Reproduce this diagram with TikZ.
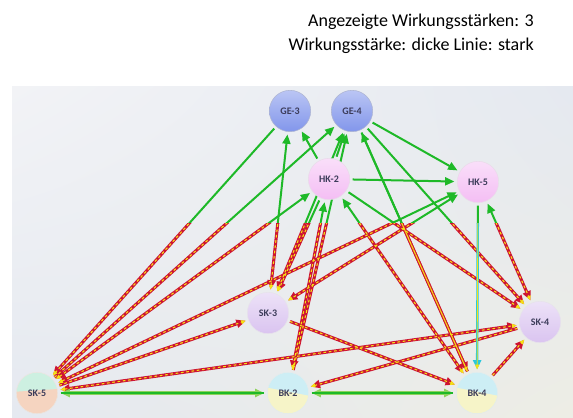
\documentclass[tikz,border=0pt]{standalone}
\usepackage{fontspec}
\setmainfont{Carlito}
\usetikzlibrary{arrows.meta, shadings}
\definecolor{mygreen}{RGB}{30,185,40}
\definecolor{mylightgreen}{RGB}{140,210,90}
\definecolor{myred}{RGB}{205,20,50}
\definecolor{myyellow}{RGB}{245,225,20}
\definecolor{mycyan}{RGB}{40,200,220}
\definecolor{panellight}{RGB}{242,243,246}
\definecolor{panelgray}{RGB}{229,233,240}
\definecolor{panelbeige}{RGB}{237,237,229}
\definecolor{geblue}{RGB}{130,150,235}
\definecolor{hkpink}{RGB}{244,190,244}
\definecolor{sklila}{RGB}{218,196,240}
\definecolor{skmint}{RGB}{205,240,225}
\definecolor{skpeach}{RGB}{245,212,192}
\definecolor{bkcyan}{RGB}{205,238,245}
\definecolor{bkyellow}{RGB}{246,244,200}
\definecolor{textgray}{RGB}{60,60,90}
\pgfdeclarelayer{background}
\pgfsetlayers{background,main}
\newcommand{\kantenliste}{GE3/SK5/fwd, SK5/GE4/fwd, SK5/HK2/both, SK5/HK5/both,
  SK5/SK3/fwd, SK5/SK4/both, SK3/GE3/both, HK2/GE3/fwd, HK2/GE4/fwd,
  SK3/GE4/both, BK2/GE4/fwd, BK4/GE4/fwd, GE4/HK5/fwd, GE4/SK4/fwd,
  GE4/BK4/fwd, HK2/HK5/fwd, HK2/SK4/fwd, HK2/SK3/fwd, HK2/BK2/both,
  BK4/HK2/both, HK5/SK3/both, HK5/SK4/both, SK3/BK4/fwd, BK4/SK4/fwd,
  SK4/BK2/fwd}
\tikzset{
  punkt/.style = {circle, minimum size=31pt, inner sep=0pt, text=textgray,
                  font=\fontsize{7.5}{8}\selectfont\bfseries},
  genode/.style = {punkt, draw=geblue!70!black!50, top color=geblue!55!white,
                   bottom color=geblue},
  hknode/.style = {punkt, draw=hkpink!80!black!35, top color=hkpink!50!white,
                   bottom color=hkpink},
  sknode/.style = {punkt, draw=sklila!80!black!30, top color=sklila!50!white,
                   bottom color=sklila},
  sk5node/.style = {punkt, draw=skpeach!80!black!30, fill=skmint,
                    path picture={\fill[skpeach] ([yshift=1pt]path picture bounding box.west)
                      -- ([yshift=3pt]path picture bounding box.east)
                      -- (path picture bounding box.south east)
                      -- (path picture bounding box.south west) -- cycle;}},
  bknode/.style = {punkt, draw=bkcyan!80!black!30, fill=bkcyan,
                   path picture={\fill[bkyellow] ([yshift=4pt]path picture bounding box.west)
                     -- ([yshift=-2pt]path picture bounding box.east)
                     -- (path picture bounding box.south east)
                     -- (path picture bounding box.south west) -- cycle;}}
}

\begin{document}
\begin{tikzpicture}[
    x=0.75pt, y=-0.75pt,
    >={Triangle[length=7pt, width=6pt]},
    fwd/.style={->}, both/.style={<->},
    kante/.style={line width=1.5pt, shorten >=2pt, shorten <=2pt},
    gruenkante/.style={kante, draw=mygreen},
    rotkante/.style={kante, line width=2.3pt, draw=myred},
    gelbkante/.style={kante, line width=0.8pt, draw=myyellow,
                      dash pattern=on 2pt off 2pt,
                      >={Triangle[length=3.5pt, width=3pt]}},
    cyankante/.style={kante, line width=1.8pt, draw=mycyan},
    bodenkante/.style={kante, line width=2.8pt, draw=mylightgreen}
    ]
\useasboundingbox (0,0) rectangle (573,417);

% Legende
\node[anchor=north east, align=right, inner sep=0pt,
      font=\fontsize{13.5}{17.5}\selectfont]
    (legende) at (534,14) {Angezeigte Wirkungsstärken: 3\\Wirkungsstärke: dicke Linie: stark};

\begin{pgfonlayer}{background}
\shade[upper left=panellight, upper right=panelgray, lower left=panelgray,
       lower right=panelbeige] (12,87) rectangle (573,417);
\end{pgfonlayer}

% Knoten
\node[genode] (GE3) at (290,111) {GE-3};
\node[genode] (GE4) at (352,111) {GE-4};
\node[hknode] (HK2) at (329,179) {HK-2};
\node[hknode] (HK5) at (478,182) {HK-5};
\node[sknode] (SK3) at (268,313) {SK-3};
\node[sknode] (SK4) at (540,322) {SK-4};
\node[sk5node] (SK5) at (37,393) {SK-5};
\node[bknode] (BK2) at (288,393) {BK-2};
\node[bknode] (BK4) at (477,393) {BK-4};

\begin{pgfonlayer}{background}
% oberer Teil: gruen
\begin{scope}
  \clip (0,0) rectangle (573,223);
  \foreach \von/\nach/\dir in \kantenliste
    \draw[gruenkante, \dir] (\von) -- (\nach);
  \draw[gruenkante, fwd] (HK5) -- (BK4);
\end{scope}
% unterer Teil: rot/gelb
\begin{scope}
  \clip (0,223) rectangle (573,417);
  \foreach \von/\nach/\dir in \kantenliste
    \draw[rotkante, \dir] (\von) -- (\nach);
  \foreach \von/\nach/\dir in \kantenliste
    \draw[gelbkante, \dir] (\von) -- (\nach);
  \draw[cyankante, fwd] (HK5) -- (BK4);
  \draw[gelbkante, line width=0.6pt, dash pattern=, fwd] (HK5) -- (BK4);
\end{scope}
% Boden
\draw[bodenkante, both] (SK5) -- (BK2);
\draw[bodenkante, both] (BK2) -- (BK4);
\draw[gruenkante, line width=0.8pt] (SK5) -- (BK2);
\draw[gruenkante, line width=0.8pt] (BK2) -- (BK4);
\end{pgfonlayer}
\end{tikzpicture}
\end{document}
